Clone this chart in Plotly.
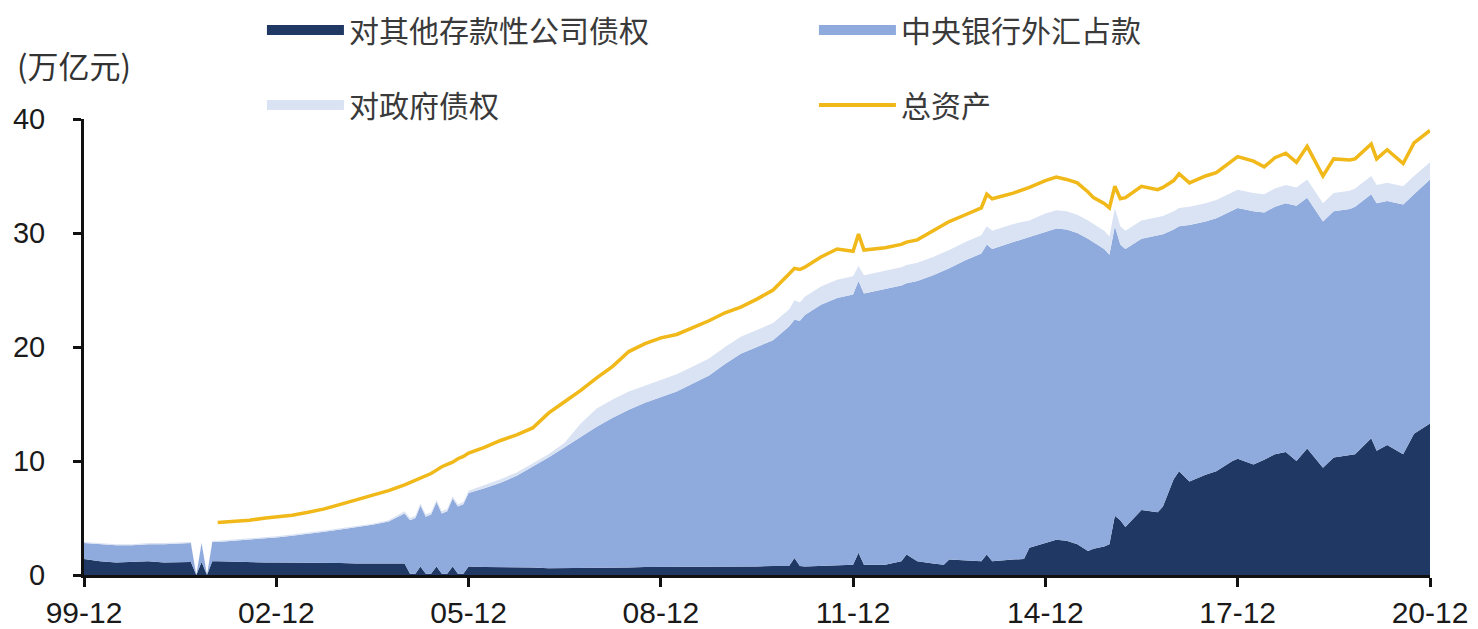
import plotly.graph_objects as go

# ---------------- data (万亿元) ----------------
dates = [
    "1999-12", "2000-03", "2000-06", "2000-09", "2000-12", "2001-03", "2001-06", "2001-08", "2001-09", "2001-10", "2001-11", "2001-12",
    "2002-01", "2002-04", "2002-07", "2002-10", "2002-12", "2003-03", "2003-06", "2003-09", "2003-12", "2004-03", "2004-06", "2004-09", "2004-12",
    "2005-01", "2005-02", "2005-03", "2005-04", "2005-05", "2005-06", "2005-07", "2005-08", "2005-09", "2005-10", "2005-11", "2005-12",
    "2006-03", "2006-06", "2006-09", "2006-12", "2007-03", "2007-06", "2007-09", "2007-12", "2008-03", "2008-06", "2008-09", "2008-12",
    "2009-03", "2009-06", "2009-09", "2009-12", "2010-03", "2010-06", "2010-09", "2010-12", "2011-01", "2011-02", "2011-03", "2011-06", "2011-09", "2011-12",
    "2012-01", "2012-02", "2012-06", "2012-09", "2012-10", "2012-12", "2013-03", "2013-05", "2013-06", "2013-09", "2013-12", "2014-01", "2014-02", "2014-06", "2014-08", "2014-09", "2014-12",
    "2015-02", "2015-04", "2015-06", "2015-08", "2015-09", "2015-11", "2015-12", "2016-01", "2016-02", "2016-03", "2016-06", "2016-09", "2016-10", "2016-12",
    "2017-01", "2017-03", "2017-06", "2017-08", "2017-11", "2017-12", "2018-03", "2018-05", "2018-07", "2018-09", "2018-11", "2019-01", "2019-04", "2019-06", "2019-09", "2019-10",
    "2020-01", "2020-02", "2020-04", "2020-07", "2020-09", "2020-12",
]

# 对其他存款性公司债权
claims_banks = [
    1.4, 1.2, 1.1, 1.15, 1.2, 1.1, 1.15, 1.15, 0, 1.15, 0, 1.2,
    1.2, 1.15, 1.15, 1.1, 1.1, 1.1, 1.05, 1.05, 1.05, 1.0, 1.0, 1.0, 1.0,
    0.1, 0.1, 0.75, 0.1, 0.1, 0.75, 0.1, 0.1, 0.75, 0.1, 0.1, 0.75,
    0.7, 0.7, 0.65, 0.65, 0.6, 0.6, 0.6, 0.6, 0.65, 0.65, 0.7, 0.7,
    0.7, 0.7, 0.7, 0.75, 0.75, 0.75, 0.8, 0.8, 1.5, 0.8, 0.75, 0.8, 0.9, 0.9,
    1.95, 0.9, 0.9, 1.2, 1.8, 1.2, 1.0, 0.9, 1.35, 1.25, 1.2, 1.8, 1.2, 1.35, 1.4, 2.4, 2.8,
    3.1, 3.0, 2.7, 2.1, 2.3, 2.5, 2.7, 5.2, 4.8, 4.2, 5.7, 5.5, 6.0, 8.4,
    9.1, 8.2, 8.8, 9.1, 10.0, 10.2, 9.7, 10.1, 10.6, 10.8, 10.0, 11.1, 9.4, 10.3, 10.5, 10.6,
    12.0, 10.9, 11.4, 10.6, 12.4, 13.3,
]

# 中央银行外汇占款
fx_reserves = [
    1.4, 1.5, 1.5, 1.45, 1.5, 1.6, 1.6, 1.65, 0, 1.65, 0, 1.7,
    1.7, 1.85, 1.95, 2.1, 2.2, 2.35, 2.55, 2.75, 2.95, 3.2, 3.4, 3.7, 4.4,
    4.7, 4.9, 5.35, 5.0, 5.2, 5.65, 5.3, 5.5, 5.95, 5.9, 6.1, 6.45,
    6.9, 7.4, 8.05, 8.85, 9.7, 10.6, 11.5, 12.4, 13.15, 13.85, 14.4, 14.9,
    15.4, 16.1, 16.8, 17.75, 18.65, 19.25, 19.8, 21.0, 20.9, 21.5, 22.05, 22.9, 23.4, 23.7,
    23.85, 23.8, 24.2, 24.2, 23.8, 24.6, 25.3, 25.8, 25.55, 26.35, 27.0, 27.2, 27.4, 27.85, 28.1, 27.2, 27.3,
    27.3, 27.3, 27.3, 27.4, 26.9, 26.1, 25.4, 25.4, 24.2, 24.4, 23.8, 24.3, 23.9, 21.9,
    21.5, 22.5, 22.2, 22.2, 22.0, 22.0, 22.2, 21.7, 21.7, 21.8, 22.4, 22.0, 21.6, 21.6, 21.6, 21.7,
    21.4, 21.7, 21.4, 21.9, 21.0, 21.4,
]

# 对政府债权
claims_gov = [
    0.1, 0.1, 0.1, 0.1, 0.1, 0.1, 0.1, 0.1, 0, 0.1, 0, 0.1,
    0.1, 0.1, 0.1, 0.1, 0.1, 0.1, 0.1, 0.1, 0.1, 0.1, 0.1, 0.1, 0.2,
    0.2, 0.2, 0.2, 0.2, 0.2, 0.2, 0.2, 0.2, 0.2, 0.2, 0.2, 0.2,
    0.3, 0.3, 0.3, 0.3, 0.3, 0.4, 1.2, 1.6, 1.6, 1.6, 1.5, 1.5,
    1.5, 1.5, 1.5, 1.5, 1.5, 1.5, 1.5, 1.5, 1.7, 1.6, 1.6, 1.6, 1.6, 1.6,
    1.3, 1.6, 1.6, 1.6, 1.6, 1.6, 1.6, 1.6, 1.6, 1.6, 1.6, 1.6, 1.6, 1.6, 1.5, 1.5, 1.6,
    1.6, 1.6, 1.6, 1.6, 1.6, 1.6, 1.6, 1.6, 1.6, 1.6, 1.6, 1.6, 1.6, 1.6,
    1.6, 1.6, 1.6, 1.6, 1.6, 1.6, 1.6, 1.6, 1.6, 1.6, 1.6, 1.6, 1.6, 1.6, 1.6, 1.6,
    1.6, 1.6, 1.6, 1.6, 1.6, 1.5,
]

# 总资产
total_assets = [
    None, None, None, None, None, None, None, None, None, None, None, None,
    4.6, 4.7, 4.8, 5.0, 5.1, 5.25, 5.5, 5.8, 6.2, 6.6, 7.0, 7.4, 7.9,
    8.1, 8.3, 8.5, 8.7, 8.9, 9.2, 9.5, 9.7, 9.9, 10.2, 10.4, 10.7,
    11.2, 11.8, 12.3, 12.9, 14.2, 15.2, 16.2, 17.3, 18.3, 19.6, 20.3, 20.8,
    21.1, 21.7, 22.3, 23.0, 23.5, 24.2, 25.0, 26.4, 26.9, 26.8, 27.0, 27.9, 28.6, 28.4,
    29.9, 28.5, 28.7, 29.0, 29.2, 29.4, 30.2, 30.8, 31.0, 31.6, 32.2, 33.4, 33.0, 33.5, 33.8, 34.0, 34.6,
    34.9, 34.7, 34.4, 33.6, 33.1, 32.6, 32.2, 34.1, 33.0, 33.1, 34.1, 33.8, 34.0, 34.6,
    35.2, 34.4, 35.0, 35.3, 36.4, 36.7, 36.3, 35.8, 36.6, 37.0, 36.2, 37.6, 35.0, 36.5, 36.4, 36.5,
    37.8, 36.5, 37.3, 36.1, 37.9, 39.0,
]

tick_vals = ["1999-12", "2002-12", "2005-12", "2008-12", "2011-12", "2014-12", "2017-12", "2020-12"]
tick_text = ["99-12", "02-12", "05-12", "08-12", "11-12", "14-12", "17-12", "20-12"]

names = ["对其他存款性公司债权", "中央银行外汇占款", "对政府债权", "总资产"]
colors = ["#1F3864", "#8FAADC", "#DAE3F3", "#F0B818"]

assert len(dates) == len(claims_banks) == len(fx_reserves) == len(claims_gov) == len(total_assets)

# ---------------- figure ----------------
CJK = "Noto Sans CJK SC"
NUM = "Arial, Liberation Sans, sans-serif"

fig = go.Figure()

for vals, nm, col in zip([claims_banks, fx_reserves, claims_gov], names[:3], colors[:3]):
    fig.add_trace(go.Scatter(
        x=dates, y=vals, name=nm, mode="lines", stackgroup="one",
        line=dict(width=0, color=col), fillcolor=col, showlegend=False,
        hoverinfo="skip",
    ))

fig.add_trace(go.Scatter(
    x=dates, y=total_assets, name=names[3], mode="lines",
    line=dict(width=3.5, color=colors[3]), connectgaps=False, showlegend=False,
    hoverinfo="skip",
))

# legend entries (two rows, two legends)
legend_map = ["legend", "legend", "legend2", "legend2"]
legend_w = [16, 16, 16, 4]
for nm, col, lg, w in zip(names, colors, legend_map, legend_w):
    fig.add_trace(go.Scatter(
        x=[None], y=[None], name=nm, mode="lines",
        line=dict(color=col, width=w), legend=lg, showlegend=True,
    ))

legend_common = dict(
    orientation="h", xanchor="left", yanchor="middle",
    itemwidth=77, entrywidth=460, entrywidthmode="pixels",
    font=dict(family=CJK, size=30, color="#3A3A3A"),
    bgcolor="rgba(0,0,0,0)", borderwidth=0, traceorder="normal",
    itemclick=False, itemdoubleclick=False,
)

fig.update_layout(
    width=1478, height=629, autosize=False,
    margin=dict(l=76, r=56, t=111, b=62, autoexpand=False),
    paper_bgcolor="white", plot_bgcolor="white",
    hovermode=False,
    legend=dict(x=0.1322, y=1.1952, **legend_common),
    legend2=dict(x=0.1322, y=1.0307, **legend_common),
    xaxis=dict(
        type="date", range=["1999-12-01", "2020-12-01"],
        tickvals=tick_vals, ticktext=tick_text,
        showgrid=False, zeroline=False,
        showline=True, linecolor="#111111", linewidth=3,
        ticks="outside", ticklen=9, tickwidth=3, tickcolor="#111111",
        tickfont=dict(family=NUM, size=30, color="#1A1A1A"),
    ),
    yaxis=dict(
        range=[0, 40], tickvals=[0, 10, 20, 30, 40],
        showgrid=False, zeroline=False,
        showline=True, linecolor="#111111", linewidth=3,
        ticks="outside", ticklen=8, tickwidth=3, tickcolor="#111111",
        ticklabelstandoff=22,
        tickfont=dict(family=NUM, size=29, color="#1A1A1A"),
    ),
    annotations=[dict(
        text="(万亿元)", xref="paper", yref="paper", x=-0.0513, y=1.12,
        xanchor="left", yanchor="middle", showarrow=False,
        font=dict(family=CJK, size=31, color="#333333"),
    )],
)

fig.write_html("out.html")
